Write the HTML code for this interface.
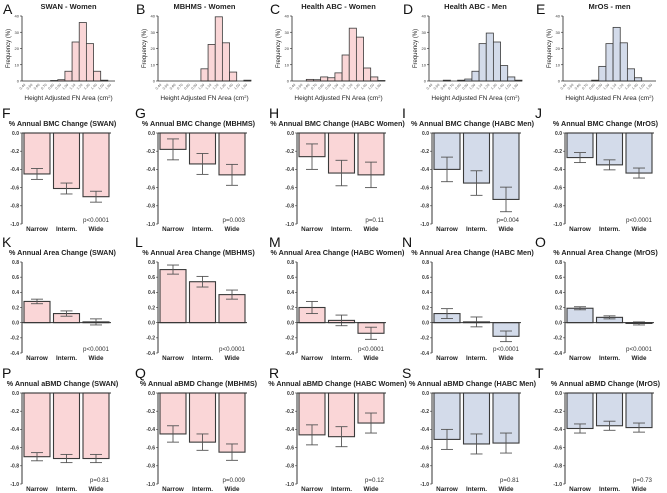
<!DOCTYPE html>
<html><head><meta charset="utf-8"><style>
html,body{margin:0;padding:0;background:#fff}
svg{display:block;font-family:"Liberation Sans",sans-serif}
</style></head><body>
<svg id="fig" width="667" height="493" viewBox="0 0 667 493"></svg>
<script>
// ---------- DATA ----------
const histLetters=["A","B","C","D","E"];
const histTitles=["SWAN - Women","MBHMS - Women","Health ABC - Women","Health ABC - Men","MrOS - men"];
const histTicks=[0,10,20,30,40];
const histBinLabels=["0.40","0.50","0.60","0.70","0.80","0.90","1.00","1.10","1.20","1.30","1.40","1.50","1.60"];
const histA=[0,0,0,0,0.3,0.8,6,24,36,23,6,0.5,0];
const histB=[0,0,0,0,0,0,7.5,22.5,39.5,23.5,5.5,0,0.5];
const histC=[0,0,1,0.8,2.5,2,5,16,32.5,27,8,2.5,0.3];
const histD=[0,0,0.5,0,0.5,1.2,6,23,29.5,24,9.5,2.5,0.5];
const histE=[0,0,0,0,0.5,9,23,33,23.5,7.5,2,0,0];
const cats=["Narrow","Interm.","Wide"];
const bmcTicks=[0,-0.2,-0.4,-0.6,-0.8,-1.0];
const areaTicks=[0.8,0.6,0.4,0.2,0,-0.2,-0.4];
const studyNames=["SWAN","MBHMS","HABC Women","HABC Men","MrOS"];
const bmcLetters=["F","G","H","I","J"];
const bmcMean=[[-0.45,-0.61,-0.70],[-0.18,-0.34,-0.46],[-0.26,-0.44,-0.46],[-0.40,-0.55,-0.73],[-0.27,-0.35,-0.44]];
const bmcErr=[[0.06,0.06,0.06],[0.115,0.115,0.115],[0.14,0.14,0.14],[0.135,0.135,0.135],[0.055,0.055,0.055]];
const bmcP=["p<0.0001","p=0.003","p=0.11","p=0.004","p<0.0001"];
const areaLetters=["K","L","M","N","O"];
const areaMean=[[0.28,0.12,0.01],[0.70,0.54,0.37],[0.20,0.03,-0.14],[0.12,0.01,-0.18],[0.19,0.07,-0.01]];
const areaErr=[[0.03,0.035,0.04],[0.06,0.07,0.06],[0.08,0.07,0.08],[0.065,0.065,0.07],[0.02,0.02,0.02]];
const areaP=["p<0.0001","p<0.0001","p<0.0001","p<0.0001","p<0.0001"];
const bmdLetters=["P","Q","R","S","T"];
const bmdMean=[[-0.70,-0.72,-0.72],[-0.45,-0.54,-0.65],[-0.46,-0.48,-0.33],[-0.51,-0.56,-0.55],[-0.39,-0.36,-0.38]];
const bmdErr=[[0.045,0.045,0.045],[0.09,0.09,0.09],[0.11,0.11,0.11],[0.11,0.11,0.11],[0.05,0.05,0.05]];
const bmdP=["p=0.81","p=0.009","p=0.12","p=0.81","p=0.73"];

// ---------- LAYOUT ----------
const NS="http://www.w3.org/2000/svg";
const svg=document.getElementById('fig');
const colX=[0,133,267,400,533];
const histAxX=[22,25,25,29,30];
const barAxX=[22,25,30,32,32];
const PINK="#fad6d7", BLUE="#d3dbea", EDGE="#3a3a3a";
function el(tag,attrs,parent){const e=document.createElementNS(NS,tag);for(const k in attrs)e.setAttribute(k,attrs[k]);(parent||svg).appendChild(e);return e;}
function txt(s,attrs,parent){const t=el('text',attrs,parent);t.textContent=s;return t;}

// histograms
const hists=[histA,histB,histC,histD,histE];
hists.forEach((vals,c)=>{
  const g=el('g',{});
  
  
  const x0=colX[c]+histAxX[c], w=93, top=16, bot=81;
  const ys=v=>bot-(v/40)*(bot-top);
  const bw=w/vals.length;
  const fill=c<3?PINK:BLUE;
  const L=txt(histLetters[c],{x:colX[c]+3,y:14,'font-size':14,fill:'#111'},g);
  
  const T=txt(histTitles[c],{x:x0+w/2,y:9,'font-size':7.5,'font-weight':'bold','text-anchor':'middle',fill:'#222'},g);
  
  vals.forEach((v,i)=>{
    if(v<=0)return;
    const r=el('rect',{x:x0+i*bw,y:ys(v),width:bw,height:bot-ys(v),fill:fill,stroke:EDGE,'stroke-width':0.8},g);
    
  });
  el('line',{x1:x0,y1:top,x2:x0,y2:bot,stroke:'#222','stroke-width':0.8},g);
  el('line',{x1:x0,y1:bot,x2:x0+w,y2:bot,stroke:'#222','stroke-width':0.8},g);
  histTicks.forEach(t=>{
    el('line',{x1:x0-2,y1:ys(t),x2:x0,y2:ys(t),stroke:'#222','stroke-width':0.6},g);
    txt(String(t),{x:x0-3,y:ys(t)+1.5,'font-size':4,'text-anchor':'end',fill:'#333'},g);
  });
  histBinLabels.forEach((s,i)=>{
    const cx=x0+(i+0.5)*bw;
    txt(s,{x:cx,y:bot+4,'font-size':3.5,'text-anchor':'end',fill:'#555',transform:`rotate(-45 ${cx} ${bot+4})`},g);
  });
  const yl=txt('Frequency (%)',{x:0,y:0,'font-size':6,'text-anchor':'middle',fill:'#222',transform:`translate(${x0-12},${(top+bot)/2}) rotate(-90)`},g);
  
  const xl=el('text',{x:x0+w/2,y:100,'font-size':6.5,'text-anchor':'middle',fill:'#222'},g);
  xl.innerHTML='Height Adjusted FN Area (cm<tspan dy="-2" font-size="4">2</tspan><tspan dy="2">)</tspan>';
  
});

// bar panels
function barRow(letters,title,means,errs,ps,ticks,top,bot,yMax,yMin,rowName){
  means.forEach((m,c)=>{
    const g=el('g',{});
    
    
    const x0=colX[c]+barAxX[c], w=89;
    const ys=v=>top+(yMax-v)/(yMax-yMin)*(bot-top);
    const fill=c<3?PINK:BLUE;
    const L=txt(letters[c],{x:colX[c]+2,y:top-15,'font-size':14,fill:'#111'},g);
    
    const T=txt(title+' ('+studyNames[c]+')',{x:x0+w/2-4,y:top-7,'font-size':7.2,'font-weight':'bold','text-anchor':'middle',fill:'#222'},g);
    
    const y0=ys(0);
    m.forEach((v,i)=>{
      const bx=x0+2+i*29.5, bwid=26;
      const r=el('rect',{x:bx,y:Math.min(ys(v),y0),width:bwid,height:Math.abs(ys(v)-y0),fill:fill,stroke:EDGE,'stroke-width':1.1},g);
      
      
      const e=errs[c][i], cx=bx+bwid/2;
      el('line',{x1:cx,y1:ys(v+e),x2:cx,y2:ys(v-e),stroke:'#555','stroke-width':0.9},g);
      el('line',{x1:cx-6,y1:ys(v+e),x2:cx+6,y2:ys(v+e),stroke:'#555','stroke-width':0.9},g);
      el('line',{x1:cx-6,y1:ys(v-e),x2:cx+6,y2:ys(v-e),stroke:'#555','stroke-width':0.9},g);
      txt(cats[i],{x:cx,y:bot+7,'font-size':6.3,'font-weight':'bold','text-anchor':'middle',fill:'#222'},g);
    });
    el('line',{x1:x0,y1:top,x2:x0,y2:bot,stroke:'#333','stroke-width':1},g);
    el('line',{x1:x0,y1:y0,x2:x0+w,y2:y0,stroke:'#333','stroke-width':1},g);
    ticks.forEach(t=>{
      el('line',{x1:x0-2,y1:ys(t),x2:x0,y2:ys(t),stroke:'#333','stroke-width':0.6},g);
      txt(t.toFixed(1),{x:x0-3,y:ys(t)+1.8,'font-size':5,'font-weight':'bold','text-anchor':'end',fill:'#333'},g);
    });
    const p=txt(ps[c],{x:x0+w-2,y:bot-2,'font-size':6.2,'text-anchor':'end',fill:'#333'},g);
    
  });
}
barRow(bmcLetters,'% Annual BMC Change',bmcMean,bmcErr,bmcP,bmcTicks,133,224,0,-1,'bmc');
barRow(areaLetters,'% Annual Area Change',areaMean,areaErr,areaP,areaTicks,262,353,0.8,-0.4,'area');
barRow(bmdLetters,'% Annual aBMD Change',bmdMean,bmdErr,bmdP,bmcTicks,393,484,0,-1,'abmd');
</script>
</body></html>
